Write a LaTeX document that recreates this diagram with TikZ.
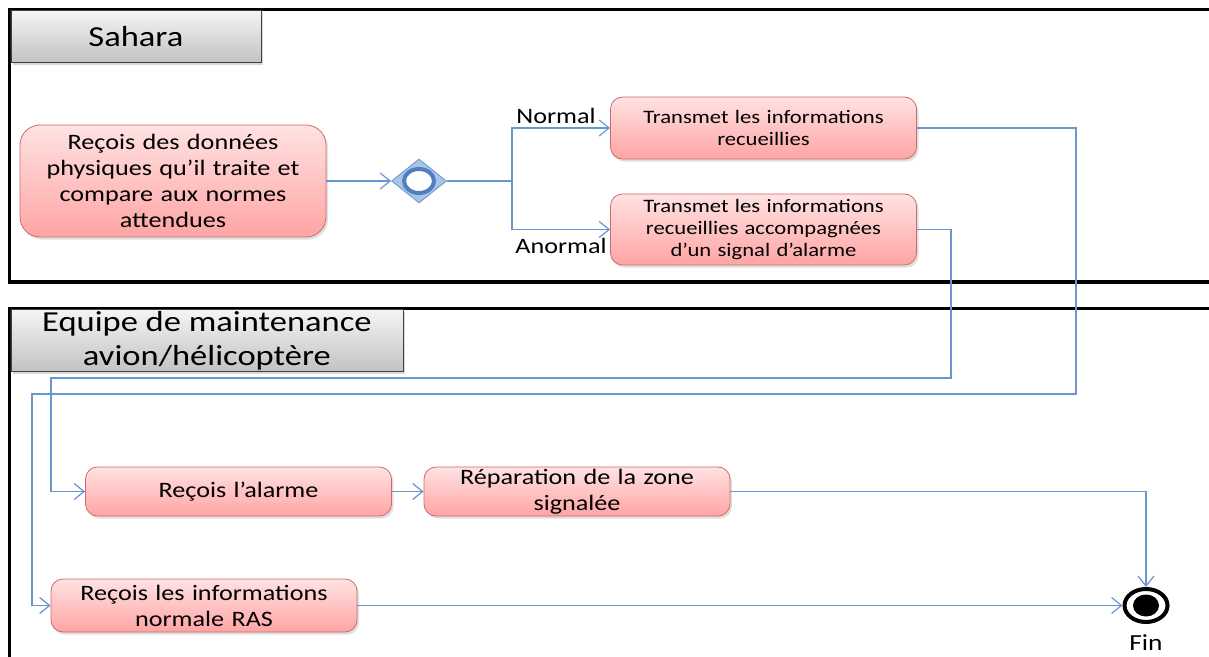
\documentclass[tikz,border=0pt]{standalone}
\usepackage{fontspec}
\setmainfont{Carlito}[FakeStretch=1.19]
\usepackage{tikz}
\usetikzlibrary{arrows.meta,shapes.geometric,shadows,positioning}
\definecolor{flowblue}{HTML}{6A96D0}
\definecolor{actline}{HTML}{D06A6A}
\definecolor{acttop}{HTML}{FFE2E2}
\definecolor{actbot}{HTML}{FFA4A4}
\definecolor{headtop}{HTML}{F4F4F4}
\definecolor{headbot}{HTML}{C2C2C2}
\definecolor{decfill}{HTML}{A9C4E8}
\definecolor{decring}{HTML}{4F7FBF}

\begin{document}
\begin{tikzpicture}[x=0.5pt,y=-0.5pt,>={Straight Barb[length=5pt,width=8pt]},
  act/.style={draw=actline,rounded corners=6pt,top color=acttop,bottom color=actbot,
    minimum width=153pt,text width=150pt,align=center,inner sep=1pt,
    font=\fontsize{11}{13}\selectfont,
    drop shadow={opacity=0.25,shadow xshift=1pt,shadow yshift=-1.3pt}},
  lanehead/.style={draw=black!75,top color=headtop,bottom color=headbot,anchor=north west,
    align=center,inner sep=0pt,font=\fontsize{14.5}{17}\selectfont,
    drop shadow={opacity=0.3,shadow xshift=1.2pt,shadow yshift=-1.2pt}},
  pool/.style={line width=1.6pt},
  flow/.style={flowblue,line width=0.6pt},
  branch/.style={font=\fontsize{11}{13}\selectfont}]
  \useasboundingbox (0,0) rectangle (1209,657);

  \draw[pool] (1209,9.5) -- (9.5,9.5) -- (9.5,282) -- (1209,282);
  \draw[pool] (1209,308.5) -- (9.5,308.5) -- (9.5,657);
  \node[lanehead,minimum width=125pt,minimum height=26pt] (sahara) at (10.5,10.5) {Sahara};
  \node[lanehead,minimum width=196pt,minimum height=31pt] (equipe) at (10.5,309.5)
    {Equipe de maintenance\\avion/hélicoptère};

  \node[act,minimum height=56pt,rounded corners=10pt]
    (recoit) at (173,181) {Reçois des données\\physiques qu’il traite et\\compare aux normes\\attendues};
  \node[diamond,draw=flowblue,fill=decfill,minimum width=27.5pt,minimum height=22pt,
    inner sep=0pt] (dec) at (419,181) {};
  \node[ellipse,draw=decring,line width=2pt,fill=white,minimum width=15pt,minimum height=12pt,
    inner sep=0pt] (ring) at (dec) {};
  \node[act,minimum height=31pt,font=\fontsize{9.5}{11}\selectfont] (norm) at (763.5,128)
    {Transmet les informations\\recueillies};
  \node[act,minimum height=35.5pt,font=\fontsize{9.5}{11}\selectfont] (anorm) at (763.5,229.5)
    {Transmet les informations\\recueillies accompagnées\\d’un signal d’alarme};
  \node[branch] (lnorm) at (556,116) {Normal};
  \node[branch] (lanorm) at (561,246) {Anormal};

  \node[act,minimum height=24.5pt] (alarme) at (238.5,491.5) {Reçois l’alarme};
  \node[act,minimum height=24.5pt,inner sep=0pt] (repar) at (577,491.5)
    {Réparation de la zone\\signalée};
  \node[act,minimum height=26.5pt] (ras) at (204,605.5) {Reçois les informations\\normale RAS};
  \node[ellipse,draw,line width=2pt,minimum width=21.5pt,minimum height=16.5pt,inner sep=0pt]
    (fin) at (1146,605.5) {};
  \node[ellipse,fill=black,minimum width=13pt,minimum height=11pt,inner sep=0pt] (fincore) at (fin) {};
  \node[below=2pt of fin,font=\fontsize{11.5}{13}\selectfont] (finlbl) {Fin};

  \coordinate (split) at (512,181);
  \draw[flow,->] (recoit.east) -- (dec.west);
  \draw[flow,->] (dec.east) -- (split) |- (norm.west);
  \draw[flow,->] (dec.east) -- (split) |- (anorm.west);
  \draw[flow,->] (norm.east) -| (1076,394) -- (32,394) |- (ras.west);
  \draw[flow,->] (anorm.east) -| (951,378) -- (51,378) |- (alarme.west);
  \draw[flow,->] (alarme.east) -- (repar.west);
  \draw[flow,->] (repar.east) -| (fin.north);
  \draw[flow,->] (ras.east) -- (fin.west);
\end{tikzpicture}
\end{document}
